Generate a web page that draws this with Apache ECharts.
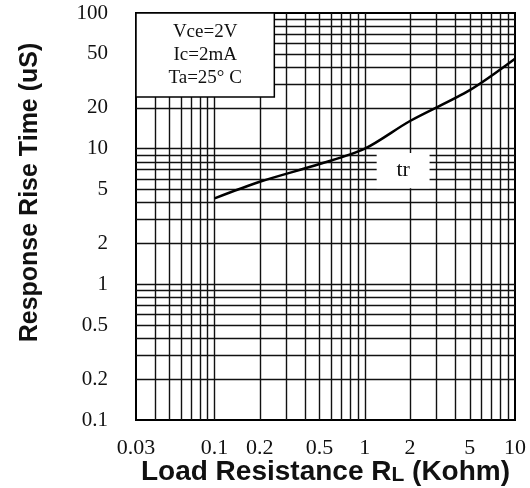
<!DOCTYPE html>
<html>
<head>
<meta charset="utf-8">
<script src="https://cdn.jsdelivr.net/npm/echarts@6/dist/echarts.min.js"></script>
<style>
html, body { margin: 0; padding: 0; background: #fff; }
#chart1 { width: 530px; height: 488px; }
</style>
</head>
<body>
<div id="chart1"></div>
<script>
// 坐标轴刻度标签
const xTickLabels = [0.03, 0.1, 0.2, 0.5, 1, 2, 5, 10];
const yTickLabels = [0.1, 0.2, 0.5, 1, 2, 5, 10, 20, 50, 100];

// 网格线位置
const xGridLines = [0.04, 0.05, 0.06, 0.07, 0.08, 0.09, 0.1,
    0.2, 0.3, 0.4, 0.5, 0.6, 0.7, 0.8, 0.9, 1,
    2, 3, 4, 5, 6, 7, 8, 9];
const yGridLines = [0.2, 0.3, 0.4, 0.5, 0.6, 0.7, 0.8, 0.9, 1,
    2, 3, 4, 5, 6, 7, 8, 9, 10,
    20, 30, 40, 50, 60, 70, 80, 90];

// 曲线数据 (RL kohm -> tr uS)
const loadResistance = [0.1, 0.2, 0.5, 1, 2, 5, 10];
const riseTime = [4.3, 5.7, 7.7, 10, 16, 27, 46];

// 测试条件
const conditions = ['Vce=2V', 'Ic=2mA', 'Ta=25\u00b0 C'];

function fmt(v) {
    return String(+Number(v).toPrecision(3));
}

function initChart() {
    const chart = echarts.init(document.getElementById('chart1'), null, { renderer: 'canvas' });

    const serif = 'Liberation Serif';
    const sans = 'Liberation Sans';
    const gridLine = { color: '#111', width: 1.4, type: 'solid', opacity: 1 };

    const option = {
        animation: false,
        grid: {
            left: 136, right: 15, top: 13, bottom: 68,
            outerBoundsMode: 'none',
            containLabel: false,
            show: true, borderColor: '#000', borderWidth: 2
        },
        xAxis: {
            type: 'log',
            min: 0.03,
            max: 10,
            name: '{a|Load Resistance R}{b|L}{a| (Kohm)}',
            nameLocation: 'middle',
            nameMoveOverlap: false,
            nameGap: 38,
            nameTextStyle: {
                rich: {
                    a: { fontFamily: sans, fontWeight: 'bold', fontSize: 28, color: '#111' },
                    b: { fontFamily: sans, fontWeight: 'bold', fontSize: 21, color: '#111', verticalAlign: 'bottom' }
                }
            },
            axisLine: { show: true, lineStyle: { color: '#000', width: 2 } },
            axisTick: { show: false },
            splitLine: { show: false },
            axisLabel: {
                customValues: xTickLabels,
                formatter: fmt,
                fontFamily: serif,
                fontSize: 22,
                color: '#111',
                margin: 17
            }
        },
        yAxis: {
            type: 'log',
            min: 0.1,
            max: 100,
            name: 'Response Rise Time (uS)',
            nameLocation: 'middle',
            nameGap: 93,
            nameTextStyle: {
                fontFamily: sans,
                fontWeight: 'bold',
                fontSize: 25,
                color: '#111',
                padding: [0, 0, 0, 48]
            },
            axisLine: { show: true, lineStyle: { color: '#000', width: 2 } },
            axisTick: { show: false },
            splitLine: { show: false },
            axisLabel: {
                customValues: yTickLabels,
                formatter: fmt,
                fontFamily: serif,
                fontSize: 21,
                color: '#111',
                margin: 28
            }
        },
        series: [
            {
                // 网格线
                type: 'line',
                data: [],
                silent: true,
                z: 1,
                markLine: {
                    silent: true,
                    z: 1,
                    symbol: 'none',
                    label: { show: false },
                    lineStyle: gridLine,
                    data: xGridLines.map(v => ({ xAxis: v }))
                        .concat(yGridLines.map(v => ({ yAxis: v })))
                }
            },
            {
                // 白色标注框
                type: 'line',
                data: [],
                silent: true,
                z: 5,
                markArea: {
                    silent: true,
                    z: 6,
                    itemStyle: { color: '#fff', opacity: 1 },
                    data: [
                        [
                            {
                                coord: [0.03, 24],
                                itemStyle: { color: '#fff', opacity: 1, borderColor: '#000', borderWidth: 1.5 },
                                label: {
                                    show: true,
                                    position: 'inside',
                                    formatter: conditions.join('\n'),
                                    fontFamily: serif,
                                    fontSize: 19,
                                    lineHeight: 23,
                                    color: '#111'
                                }
                            },
                            { coord: [0.25, 100] }
                        ],
                        [
                            {
                                coord: [1.2, 5.1],
                                itemStyle: { color: '#fff', opacity: 1, borderWidth: 0 },
                                label: {
                                    show: true,
                                    position: 'inside',
                                    formatter: 'tr',
                                    fontFamily: serif,
                                    fontSize: 22,
                                    color: '#111'
                                }
                            },
                            { coord: [2.7, 9.3] }
                        ]
                    ]
                }
            },
            {
                type: 'line',
                name: 'tr',
                data: loadResistance.map((r, i) => [r, riseTime[i]]),
                symbol: 'none',
                smooth: 0.3,
                z: 10,
                lineStyle: { color: '#000', width: 2.5 }
            }
        ]
    };

    chart.setOption(option);
}

window.addEventListener('load', initChart);
</script>
</body>
</html>
